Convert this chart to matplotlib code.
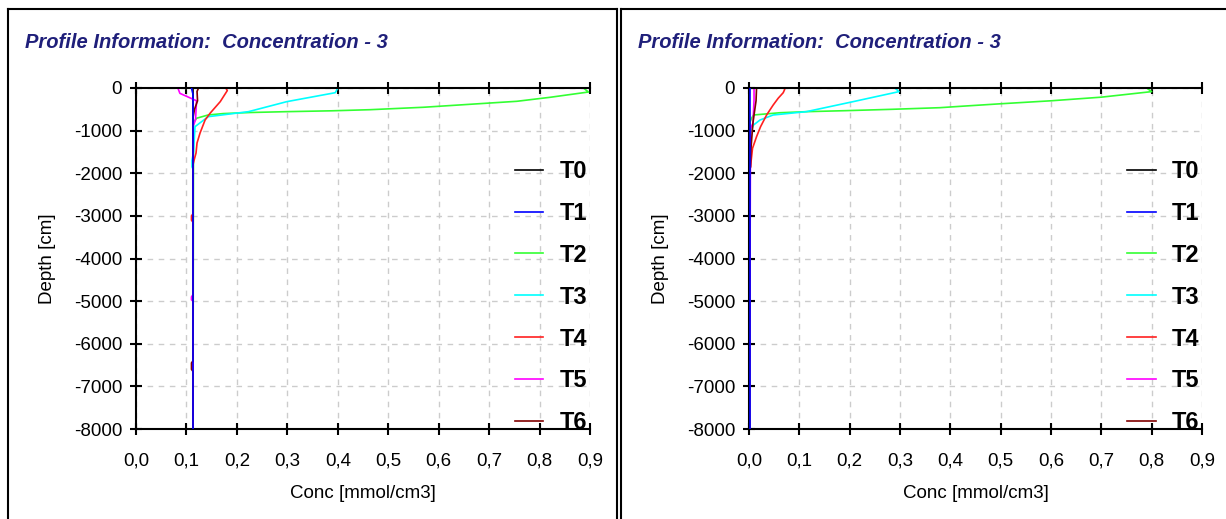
import numpy as np
import matplotlib
matplotlib.use('Agg')
import matplotlib.pyplot as plt
from matplotlib.lines import Line2D

plt.rcParams['font.family'] = ['Liberation Sans', 'DejaVu Sans']
plt.rcParams['axes.unicode_minus'] = False

#---------------------- DATA
names   = ["T0", "T1", "T2", "T3", "T4", "T5", "T6"]
colors  = ["#000000", "#0000ff", "#33ff33", "#00ffff", "#ff2020", "#ff00ff", "#800000"]
title   = "Profile Information:  Concentration - 3"
xticks  = [0.0, 0.1, 0.2, 0.3, 0.4, 0.5, 0.6, 0.7, 0.8, 0.9]
yticks  = [0, -1000, -2000, -3000, -4000, -5000, -6000, -7000, -8000]

# left panel : depth [cm] / conc [mmol/cm3]
left_t0_d = [0, -8000]
left_t0_c = [0.113, 0.113]
left_t1_d = [0, -150, -8000]
left_t1_c = [0.110, 0.113, 0.113]
left_t2_d = [0, -94, -218, -312, -352, -452, -509, -535, -555, -575, -600, -633, -710, -800, -8000]
left_t2_c = [0.887, 0.897, 0.821, 0.755, 0.702, 0.570, 0.464, 0.388, 0.299, 0.226, 0.173, 0.143, 0.120, 0.114, 0.113]
left_t3_d = [0, -110, -320, -555, -673, -907, -1500, -1700, -1850, -1900, -8000]
left_t3_c = [0.400, 0.395, 0.299, 0.223, 0.143, 0.117, 0.114, 0.111, 0.111, 0.113, 0.113]
left_t4_d = [0, -60, -320, -590, -750, -1055, -1290, -1525, -1700, -1800, -2950, -3000, -3100, -3150, -8000]
left_t4_c = [0.178, 0.181, 0.167, 0.147, 0.137, 0.127, 0.121, 0.119, 0.115, 0.113, 0.113, 0.110, 0.110, 0.113, 0.113]
left_t5_d = [0, -125, -300, -750, -900, -4850, -4900, -4970, -5000, -8000]
left_t5_c = [0.083, 0.087, 0.120, 0.118, 0.113, 0.113, 0.110, 0.110, 0.113, 0.113]
left_t6_d = [0, -80, -300, -500, -700, -6400, -6450, -6600, -6650, -8000]
left_t6_c = [0.124, 0.121, 0.122, 0.116, 0.113, 0.113, 0.110, 0.110, 0.113, 0.113]

# right panel
right_t0_d = [0, -8000]
right_t0_c = [0.0, 0.0]
right_t1_d = [0, -8000]
right_t1_c = [0.001, 0.001]
right_t2_d = [0, -85, -215, -300, -370, -430, -462, -500, -532, -555, -580, -633, -710, -800, -8000]
right_t2_c = [0.790, 0.800, 0.700, 0.600, 0.500, 0.420, 0.379, 0.284, 0.191, 0.115, 0.062, 0.009, 0.005, 0.002, 0.001]
right_t3_d = [0, -85, -320, -555, -633, -750, -868, -1000, -1455, -1600, -8000]
right_t3_c = [0.290, 0.298, 0.207, 0.114, 0.048, 0.022, 0.009, 0.004, 0.003, 0.001, 0.001]
right_t4_d = [0, -30, -110, -240, -400, -633, -907, -1142, -1415, -1845, -1950, -8000]
right_t4_c = [0.070, 0.071, 0.068, 0.058, 0.048, 0.035, 0.023, 0.015, 0.007, 0.003, 0.001, 0.001]
right_t5_d = [0, -280, -820, -950, -8000]
right_t5_c = [0.010, 0.010, 0.008, 0.003, 0.001]
right_t6_d = [0, -300, -800, -1400, -1850, -1950, -8000]
right_t6_c = [0.015, 0.014, 0.008, 0.004, 0.003, 0.001, 0.001]

LEFT_D  = [left_t0_d, left_t1_d, left_t2_d, left_t3_d, left_t4_d, left_t5_d, left_t6_d]
LEFT_C  = [left_t0_c, left_t1_c, left_t2_c, left_t3_c, left_t4_c, left_t5_c, left_t6_c]
RIGHT_D = [right_t0_d, right_t1_d, right_t2_d, right_t3_d, right_t4_d, right_t5_d, right_t6_d]
RIGHT_C = [right_t0_c, right_t1_c, right_t2_c, right_t3_c, right_t4_c, right_t5_c, right_t6_c]

#------------------------PLOTTING
W, H = 1226., 519.
fig = plt.figure(figsize=(W/100, H/100), dpi=100)
fig.patch.set_facecolor('white')

# panel frames
for seg in [([8, 8], [0, H-9]), ([8, 617], [H-9, H-9]), ([617, 617], [0, H-9]),
            ([621, 621], [0, H-9]), ([621, W], [H-9, H-9])]:
    fig.add_artist(Line2D(np.array(seg[0])/W, np.array(seg[1])/H, transform=fig.transFigure,
                          color='black', linewidth=1.5))

pos = [[136/W, 1-429/H, 454/W, 341/H], [749/W, 1-429/H, 453/W, 341/H]]
tx  = [25/W, 638/W]
DATA = [(LEFT_D, LEFT_C), (RIGHT_D, RIGHT_C)]

for k in range(2):
    ax = fig.add_axes(pos[k])
    D, C = DATA[k]
    for i in range(len(names)):
        zo = 3 if i == 1 else 2
        ax.plot(C[i], D[i], color=colors[i], linewidth=1.2, label=names[i], zorder=zo)

    ax.set_xlim(0, 0.9)
    ax.set_ylim(-8000, 0)
    ax.set_xticks(xticks)
    ax.set_xticklabels([('%.1f' % x).replace('.', ',') for x in xticks], fontsize=13.5)
    ax.set_yticks(yticks)
    ax.set_yticklabels(['%d' % y for y in yticks], fontsize=13.5)
    ax.tick_params(direction='inout', length=8, width=1.5, top=True, pad=6)
    ax.tick_params(axis='x', pad=13)
    ax.spines['right'].set_visible(False)
    for s in ['top', 'bottom', 'left']:
        ax.spines[s].set_linewidth(1.5)
    ax.grid(True, color='#cccccc', linestyle=(0, (4, 4)), linewidth=1.0)
    ax.set_axisbelow(True)

    ax.set_xlabel('Conc [mmol/cm3]', fontsize=13.5, labelpad=11)
    ax.set_ylabel('Depth [cm]', fontsize=13.5, labelpad=13)

    leg = ax.legend(loc='upper left', bbox_to_anchor=(0.835, 0.789), frameon=False,
                    borderpad=0, borderaxespad=0, handlelength=1.2, handletextpad=0.7,
                    labelspacing=0.80, prop={'weight': 'bold', 'size': 17})

    fig.text(tx[k], 1-42/H, title, fontsize=14.5, fontweight='bold', fontstyle='italic',
             color='#1f1f7a', va='center', ha='left')

plt.savefig('out.png', dpi=100, facecolor='white')
